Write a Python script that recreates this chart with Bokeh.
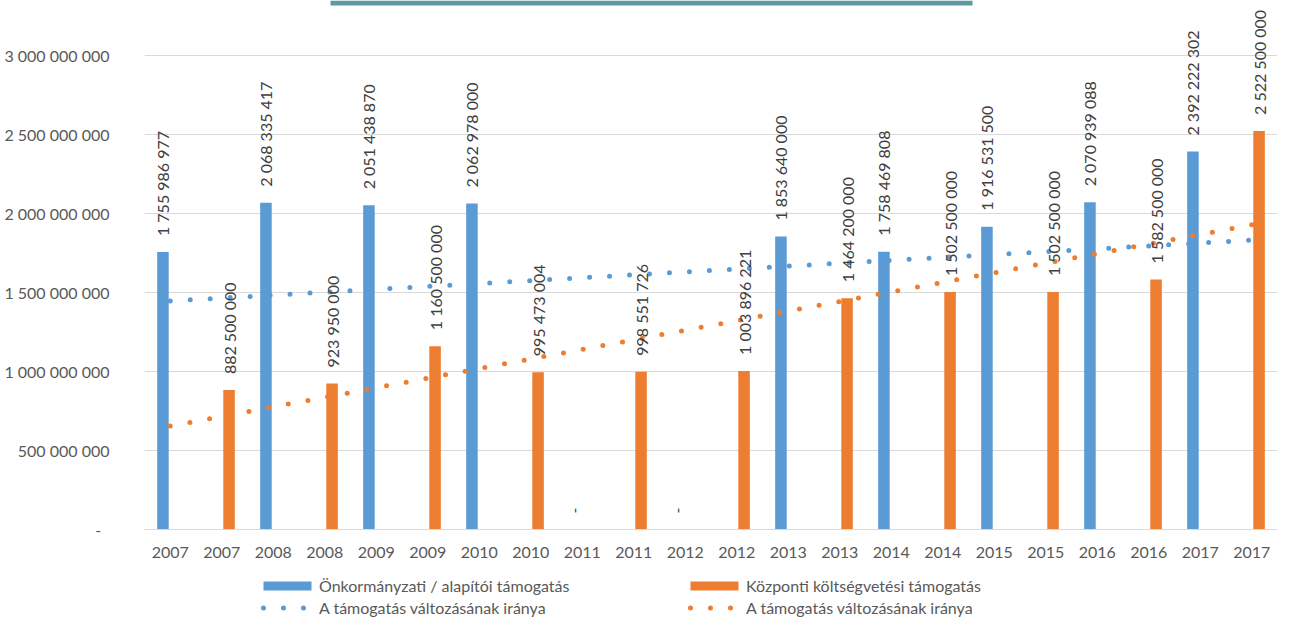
import numpy as np
from bokeh.plotting import figure
from bokeh.layouts import column
from bokeh.models import (ColumnDataSource, Range1d, FixedTicker, Legend,
                          LegendItem, BoxAnnotation)
from bokeh.transform import dodge
from bokeh.core.properties import value
from bokeh.embed import file_html
from bokeh.resources import INLINE

# ---------------- data ----------------
categories = ["2007", "2007", "2008", "2008", "2009", "2009", "2010", "2010",
              "2011", "2011", "2012", "2012", "2013", "2013", "2014", "2014",
              "2015", "2015", "2016", "2016", "2017", "2017"]

onkormanyzati = [1755986977, None, 2068335417, None, 2051438870, None,
                 2062978000, None, 0, None, 0, None, 1853640000, None,
                 1758469808, None, 1916531500, None, 2070939088, None,
                 2392222302, None]

kozponti = [None, 882500000, None, 923950000, None, 1160500000, None,
            995473004, None, 998551726, None, 1003896221, None, 1464200000,
            None, 1502500000, None, 1502500000, None, 1582500000, None,
            2522500000]

y_ticks = [0, 500000000, 1000000000, 1500000000, 2000000000, 2500000000,
           3000000000]
y_tick_labels = ["-\u00a0\u00a0", "500 000 000", "1 000 000 000",
                 "1 500 000 000", "2 000 000 000", "2 500 000 000",
                 "3 000 000 000"]

name_onk = "Önkormányzati / alapítói támogatás"
name_kozp = "Központi költségvetési támogatás"
name_trend = "A támogatás változásának iránya"

BLUE = "#5B9BD5"
ORANGE = "#ED7D31"
TEAL = "#5E99A1"
FONT = "Lato"
BAR_OFFSET = 0.142
BAR_WIDTH = 0.224
DOTS = dict(line_width=5, line_dash="0 20", line_cap="round")


def fmt(v):
    return "-" if v == 0 else f"{v:,}".replace(",", " ")


def series_source(vals):
    idx = [i for i, v in enumerate(vals) if v is not None]
    ys = [vals[i] for i in idx]
    return ColumnDataSource(dict(x=idx, top=ys, label=[fmt(v) for v in ys]))


def trend_source(vals):
    idx = np.array([i for i, v in enumerate(vals) if v is not None])
    ys = np.array([vals[i] for i in idx], dtype=float)
    coef = np.polyfit(idx + 1, ys, 1)
    ends = np.array([0, len(categories) - 1])
    return ColumnDataSource(dict(x=ends, y=np.polyval(coef, ends + 1)))


src_onk = series_source(onkormanyzati)
src_kozp = series_source(kozponti)
tr_onk = trend_source(onkormanyzati)
tr_kozp = trend_source(kozponti)

# ---------------- main chart ----------------
p = figure(frame_width=1133, frame_height=529,
           x_range=Range1d(-0.5, len(categories) - 0.5),
           y_range=Range1d(0, 3348.1e6),
           output_backend="svg", toolbar_location=None,
           min_border_left=144, min_border_right=0,
           min_border_top=0, min_border_bottom=40)
p.outline_line_color = None
p.background_fill_color = "white"
p.border_fill_color = "white"

p.xaxis.ticker = FixedTicker(ticks=list(range(len(categories))))
p.xaxis.major_label_overrides = {i: c for i, c in enumerate(categories)}
p.xaxis.axis_line_color = "#D9D9D9"
p.xaxis.major_tick_line_color = None
p.xaxis.minor_tick_line_color = None
p.xaxis.major_label_standoff = 11
p.xaxis.major_label_text_font = FONT
p.xaxis.major_label_text_font_size = "16px"
p.xaxis.major_label_text_color = "#595959"

p.yaxis.ticker = FixedTicker(ticks=y_ticks)
p.yaxis.major_label_overrides = {t: l for t, l in zip(y_ticks, y_tick_labels)}
p.yaxis.axis_line_color = None
p.yaxis.major_tick_line_color = None
p.yaxis.minor_tick_line_color = None
p.yaxis.major_label_standoff = 29
p.yaxis.major_label_text_font = FONT
p.yaxis.major_label_text_font_size = "16px"
p.yaxis.major_label_text_color = "#595959"

p.xgrid.grid_line_color = None
p.ygrid.ticker = FixedTicker(ticks=y_ticks)
p.ygrid.grid_line_color = "#D9D9D9"
p.ygrid.grid_line_width = 1

p.vbar(x=dodge("x", -BAR_OFFSET, range=p.x_range), top="top",
       width=BAR_WIDTH, source=src_onk, fill_color=BLUE, line_color=None)
p.vbar(x=dodge("x", BAR_OFFSET, range=p.x_range), top="top",
       width=BAR_WIDTH, source=src_kozp, fill_color=ORANGE, line_color=None)

p.line(x="x", y="y", source=tr_onk, line_color=BLUE, **DOTS)
p.line(x="x", y="y", source=tr_kozp, line_color=ORANGE, **DOTS)

for src, off in ((src_onk, -BAR_OFFSET), (src_kozp, BAR_OFFSET)):
    p.text(x=dodge("x", off, range=p.x_range), y="top", text="label",
           source=src, angle=np.pi / 2, text_align="left",
           text_baseline="middle", y_offset=-16,
           text_font=value(FONT), text_font_size="16px",
           text_color="#404040")

p.add_layout(BoxAnnotation(left=330, right=972, top=0, bottom=5,
                           left_units="canvas", right_units="canvas",
                           top_units="canvas", bottom_units="canvas",
                           fill_color=TEAL, fill_alpha=1.0,
                           line_color=None))

# ---------------- legend strip (same series, kept out of view) ----------
lf = figure(frame_width=1133, frame_height=49,
            x_range=Range1d(-0.5, len(categories) - 0.5),
            y_range=Range1d(1e13, 2e13), output_backend="svg",
            toolbar_location=None, min_border_left=144, min_border_right=0,
            min_border_top=0, min_border_bottom=0)
lf.axis.visible = False
lf.grid.grid_line_color = None
lf.outline_line_color = None
lf.background_fill_color = "white"
lf.border_fill_color = "white"

l_onk = lf.vbar(x="x", top="top", width=BAR_WIDTH, source=src_onk,
                fill_color=BLUE, line_color=None)
l_kozp = lf.vbar(x="x", top="top", width=BAR_WIDTH, source=src_kozp,
                 fill_color=ORANGE, line_color=None)
l_tr_onk = lf.line(x="x", y="y", source=tr_onk, line_color=BLUE,
                   line_dash_offset=14, **DOTS)
l_tr_kozp = lf.line(x="x", y="y", source=tr_kozp, line_color=ORANGE,
                    line_dash_offset=14, **DOTS)

legend = Legend(items=[
    LegendItem(label=name_onk, renderers=[l_onk]),
    LegendItem(label=name_kozp, renderers=[l_kozp]),
    LegendItem(label=name_trend, renderers=[l_tr_onk]),
    LegendItem(label=name_trend, renderers=[l_tr_kozp]),
], location=(113, 0), orientation="horizontal", ncols=2,
    glyph_width=60, glyph_height=11, label_standoff=2, label_width=365,
    label_height=22, spacing=0, padding=0, margin=0,
    border_line_color=None, background_fill_alpha=0,
    label_text_font=FONT, label_text_font_size="16px",
    label_text_color="#595959")
lf.add_layout(legend, "center")

open("out.html", "w").write(file_html(column(p, lf), INLINE))
